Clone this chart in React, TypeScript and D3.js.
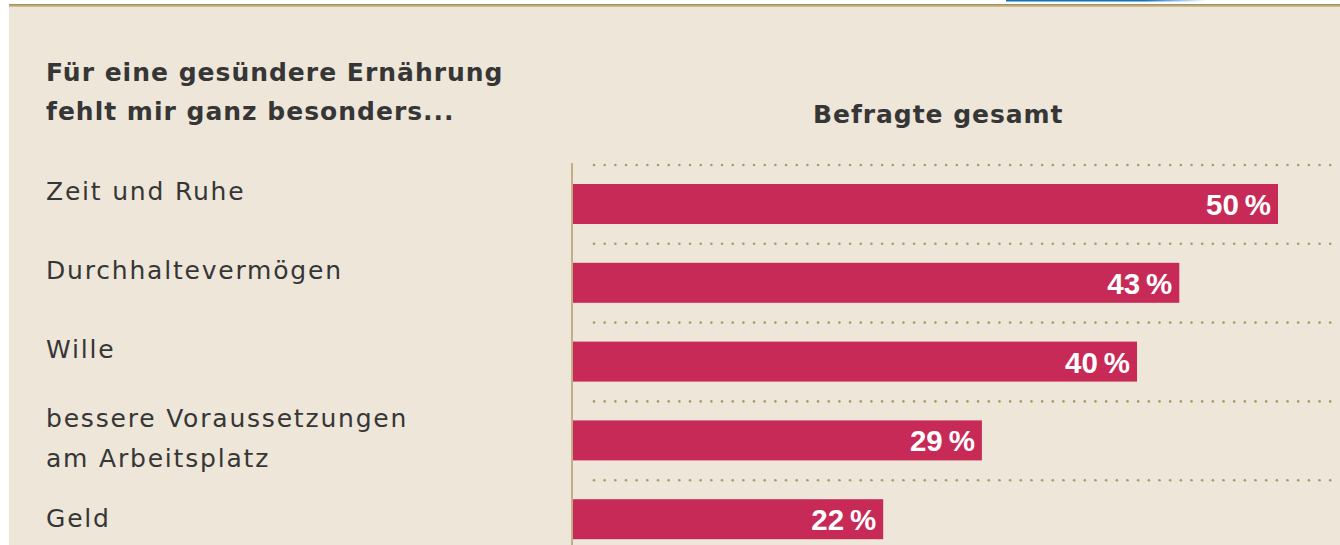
import React from "react";
import * as d3 from "d3";

const titleLines = ["Für eine gesündere Ernährung", "fehlt mir ganz besonders..."];
const seriesTitle = "Befragte gesamt";
const categories: string[][] = [
  ["Zeit und Ruhe"],
  ["Durchhaltevermögen"],
  ["Wille"],
  ["bessere Voraussetzungen", "am Arbeitsplatz"],
  ["Geld"],
];
const values = [50, 43, 40, 29, 22];

const W = 1340;
const H = 545;
const BG = "#ede6d9";
const BAR = "#c72a57";
const GOLD = "#ad9a62";
const TEXT = "#363636";
const FONT = "'DejaVu Sans', Verdana, sans-serif";
const VFONT = "'Liberation Sans', Arial, sans-serif";

export default function App() {
  const x = d3.scaleLinear().domain([0, 50]).range([573, 1278]);
  const y = d3
    .scaleBand<number>()
    .domain(d3.range(values.length))
    .range([163, 163 + 78.8 * values.length])
    .paddingInner(0)
    .paddingOuter(0);
  const barTopOffset = 21;
  const barH = 40;
  const dotXs = d3.range(594, 1332, 10.67);
  const labelNudge = [0, 0, 0, 0, 12];

  return (
    <div style={{ position: "fixed", left: 0, top: 0, width: W, height: H }}>
      <svg width={W} height={H} style={{ display: "block" }}>
        <defs>
          <linearGradient id="goldLine" x1="0" y1="0" x2="0" y2="1">
            <stop offset="0" stopColor="#a08650" />
            <stop offset="1" stopColor="#d9c9a0" />
          </linearGradient>
          <linearGradient id="blueLine" x1="0" y1="0" x2="1" y2="0">
            <stop offset="0" stopColor="#1272c2" />
            <stop offset="0.7" stopColor="#1272c2" />
            <stop offset="1" stopColor="#ffffff" />
          </linearGradient>
        </defs>
        <rect x={0} y={0} width={W} height={H} fill="#ffffff" />
        <rect x={9} y={4} width={W - 9} height={H - 4} fill={BG} />
        <rect x={9} y={4} width={W - 9} height={3} fill="url(#goldLine)" />
        <rect x={1006} y={0} width={200} height={1.5} fill="url(#blueLine)" />

        {titleLines.map((t, i) => (
          <text
            key={t}
            x={46}
            y={81 + i * 39}
            fontFamily={FONT}
            fontWeight="bold"
            fontSize={25}
            letterSpacing={1.0}
            fill={TEXT}
          >
            {t}
          </text>
        ))}
        <text
          x={813}
          y={123}
          fontFamily={FONT}
          fontWeight="bold"
          fontSize={25}
          letterSpacing={0.95}
          fill={TEXT}
        >
          {seriesTitle}
        </text>

        {values.map((v, i) => {
          const top = (y(i) as number) + barTopOffset;
          const lineY = (y(i) as number) + 2;
          return (
            <g key={i}>
              {dotXs.map((dx, j) => (
                <circle key={j} cx={dx} cy={lineY} r={1.3} fill={GOLD} />
              ))}
              <rect x={x(0)} y={top} width={x(v) - x(0)} height={barH} fill={BAR} />
              <text
                x={x(v) - 7}
                y={top + 31}
                textAnchor="end"
                fontFamily={VFONT}
                fontWeight="bold"
                fontSize={29.5}
                fill="#ffffff"
              >
                {`${v}\u2009%`}
              </text>
              {categories[i].map((line, k) => (
                <text
                  key={k}
                  x={46}
                  y={(categories[i].length > 1 ? top + 7 : top + 16) + labelNudge[i] + k * 40}
                  fontFamily={FONT}
                  fontSize={25}
                  letterSpacing={1.8}
                  fill={TEXT}
                >
                  {line}
                </text>
              ))}
            </g>
          );
        })}
        <line x1={572} x2={572} y1={163} y2={H} stroke="#b59c68" strokeWidth={1.5} />
      </svg>
    </div>
  );
}
